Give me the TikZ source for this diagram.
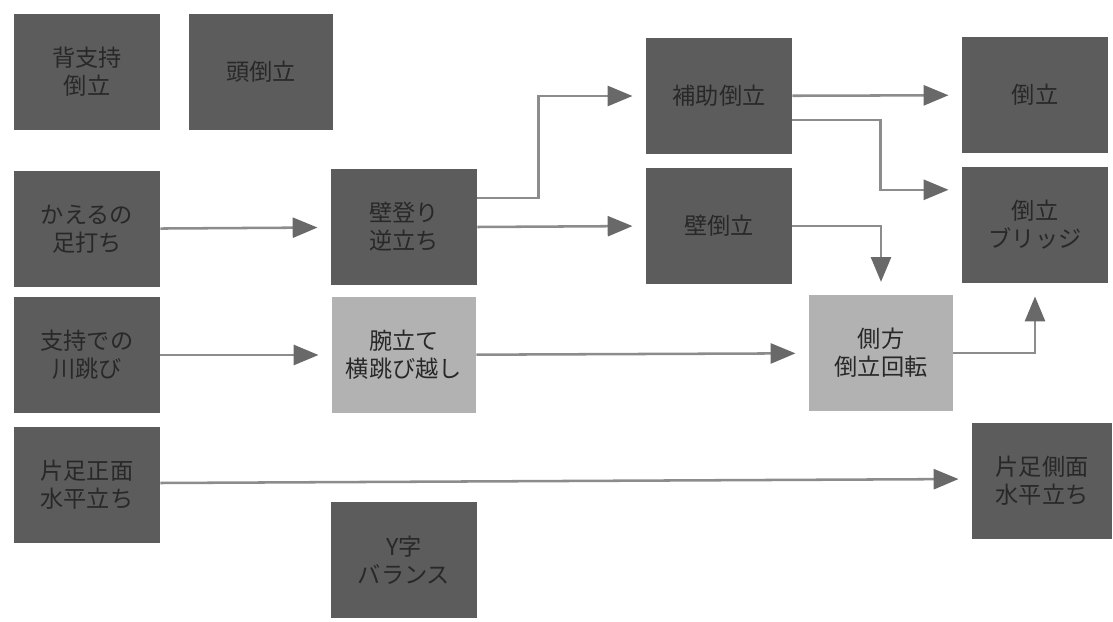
\documentclass[tikz,border=0pt]{standalone}
\usepackage{fontspec}
\setmainfont{Noto Sans CJK JP}
\usetikzlibrary{positioning,arrows.meta}
\definecolor{boxdark}{RGB}{92,92,92}
\definecolor{boxlight}{RGB}{178,178,178}
\definecolor{txtdark}{RGB}{40,40,40}
\definecolor{linegray}{RGB}{140,140,140}
\definecolor{tipgray}{RGB}{105,105,105}
\tikzset{
  flowarrow/.style={-{Triangle[length=0.62cm,width=0.5cm,color=tipgray]}, line width=1.8pt, draw=linegray, shorten >=0.33cm},
  darkbox/.style={fill=boxdark, text=txtdark, minimum width=3.65cm, minimum height=2.9cm, align=center, inner sep=0pt},
  lightbox/.style={fill=boxlight, text=txtdark, minimum width=3.6cm, minimum height=2.88cm, align=center, inner sep=0pt}
}

\begin{document}
\begin{tikzpicture}[x=0.025cm, y=-0.025cm, every node/.style={font=\fontsize{16.5}{20}\selectfont}]
  \useasboundingbox[fill=white] (0,0) rectangle (1113,622);
  % left column
  \node[darkbox] (haishiji) at (87,72) {背支持\\倒立};
  \node[darkbox, minimum width=3.58cm] (atama) at (261,72) {頭倒立};
  \node[darkbox] (kaeru) at (87,229) {かえるの\\足打ち};
  \node[darkbox] (kawatobi) at (87,355) {支持での\\川跳び};
  \node[darkbox] (shomen) at (87,485) {片足正面\\水平立ち};
  % middle column
  \node[darkbox] (kabenobori) at (404,227) {壁登り\\逆立ち};
  \node[lightbox] (udetate) at (404,355) {腕立て\\横跳び越し};
  \node[darkbox] (yji) at (404,560) {Y字\\バランス};
  \node[darkbox] (hojo) at (719,96) {補助倒立};
  \node[darkbox] (kabe) at (719,226) {壁倒立};
  \node[lightbox] (sokuho) at (881,353) {側方\\倒立回転};
  % right column
  \node[darkbox] (toritsu) at (1035,95) {倒立};
  \node[darkbox] (bridge) at (1035,225) {倒立\\ブリッジ};
  \node[darkbox, minimum width=3.5cm] (sokumen) at (1042,481) {片足側面\\水平立ち};

  \draw[flowarrow] (kaeru) -- (kabenobori);
  \draw[flowarrow] (kawatobi) -- (udetate);
  \draw[flowarrow] ([yshift=0.72cm]kabenobori.east) -- ++(61,0) |- (hojo.west);
  \draw[flowarrow] (kabenobori.east) -- (kabe.west);
  \draw[flowarrow] (hojo) -- (toritsu);
  \draw[flowarrow] ([yshift=-0.6cm]hojo.east) -- ++(88,0) |- ([yshift=0.88cm]bridge.west);
  \draw[flowarrow] (kabe.east) -| (sokuho.north);
  \draw[flowarrow] (udetate) -- (sokuho);
  \draw[flowarrow] (sokuho.east) -| (bridge.south);
  \draw[flowarrow] ([yshift=0.05cm]shomen.east) -- ([yshift=0.05cm]sokumen.west);
\end{tikzpicture}
\end{document}
